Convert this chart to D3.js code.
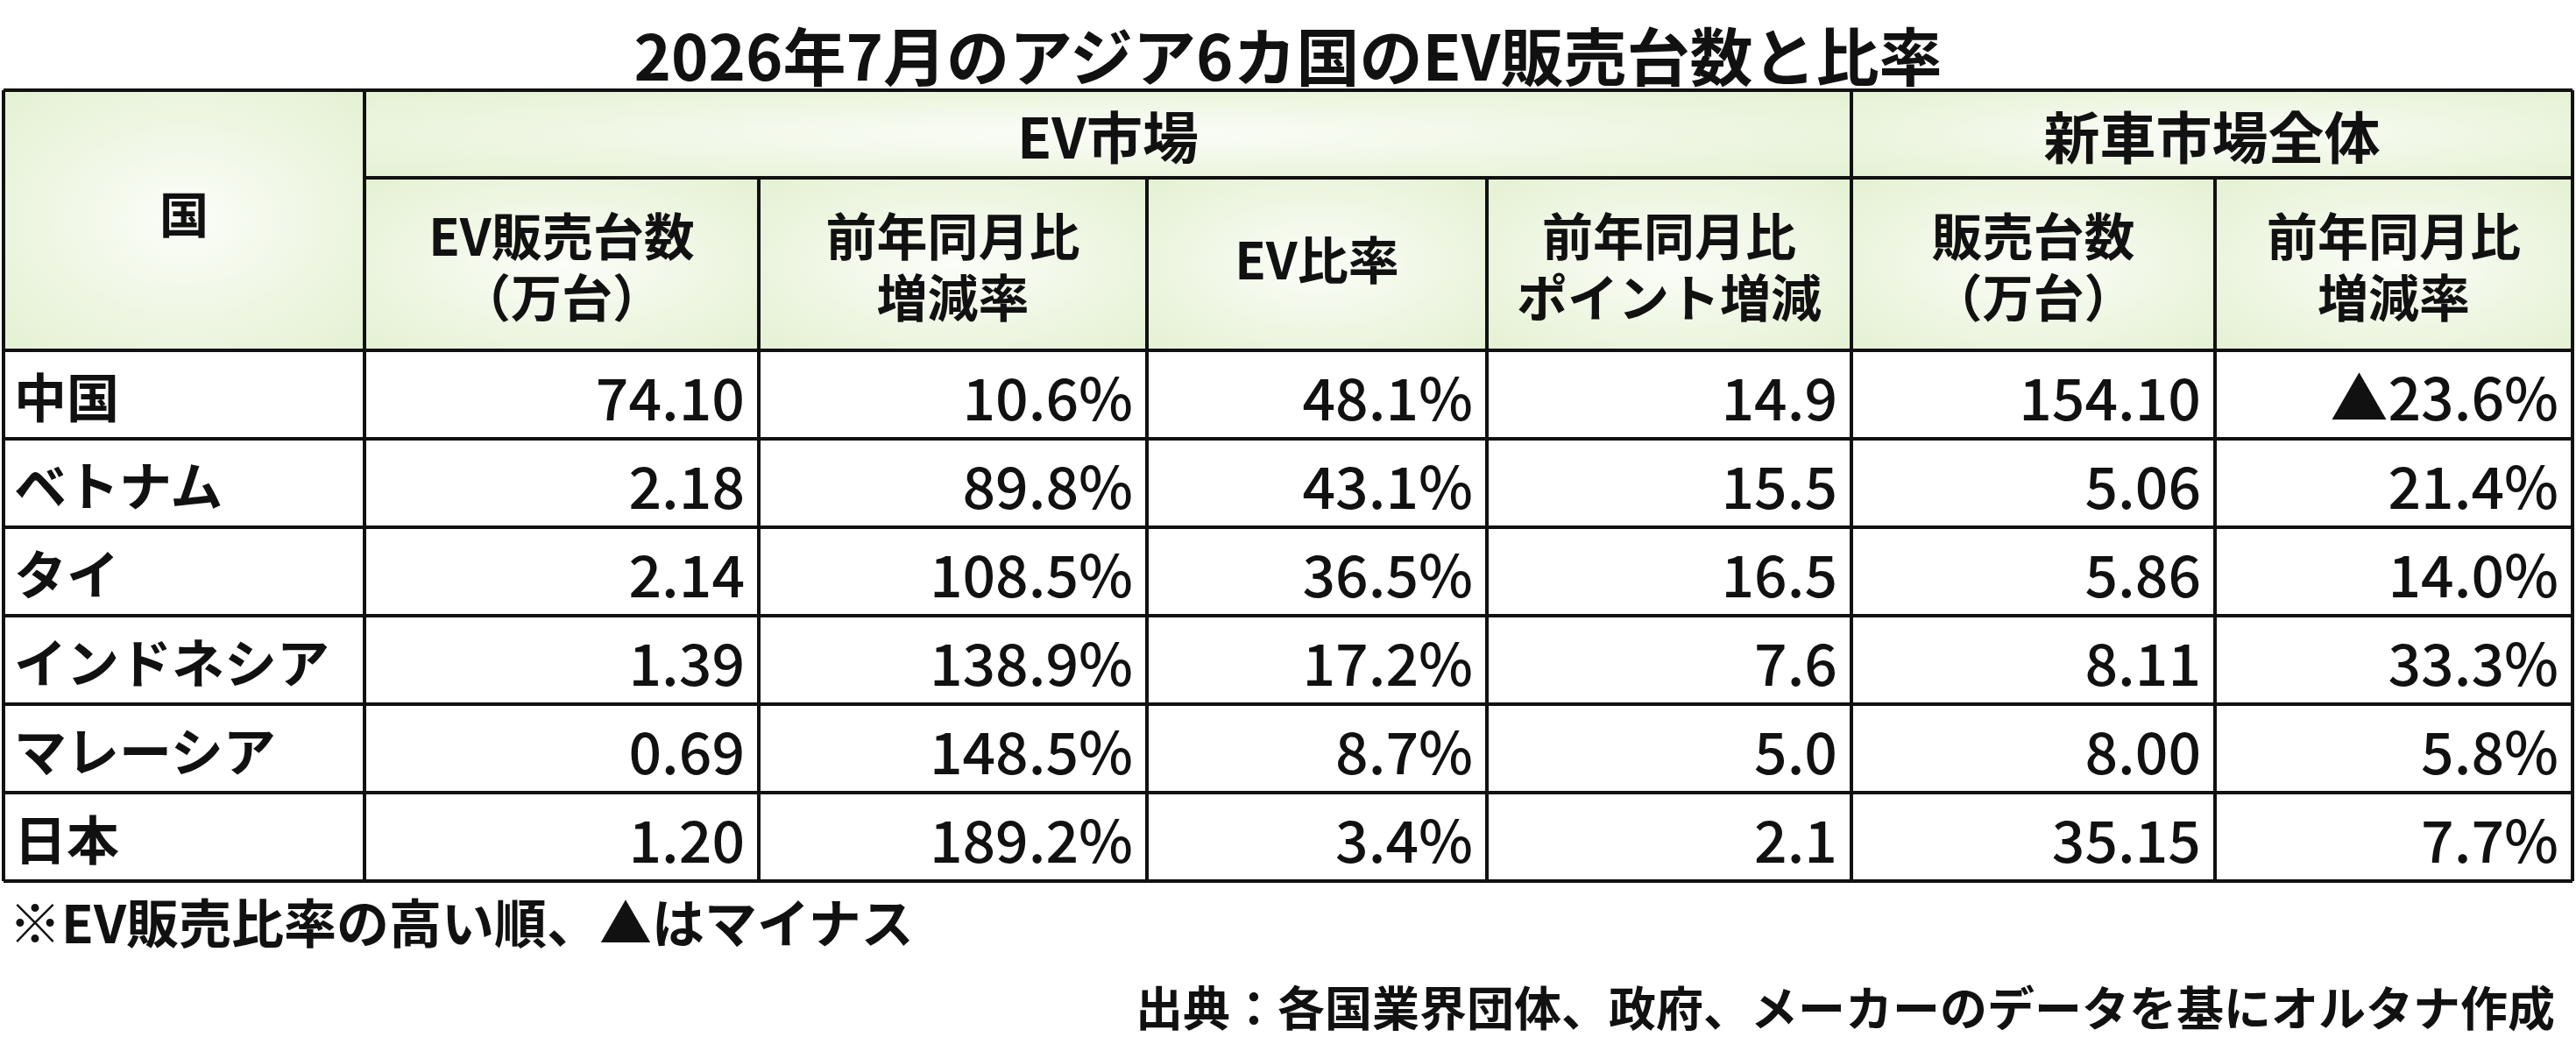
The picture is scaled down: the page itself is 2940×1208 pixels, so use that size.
<!DOCTYPE html>
<html><head><meta charset="utf-8">
<script src="https://cdn.jsdelivr.net/npm/d3@7"></script>
<style>body{margin:0;background:#fff}svg{display:block}text{font-family:"Noto Sans CJK JP","Noto Sans",sans-serif;fill:#111}</style>
</head><body><svg id="c" width="2940" height="1208"></svg>
<script>
const countries = ['中国','ベトナム','タイ','インドネシア','マレーシア','日本'];
const evSales = ['74.10','2.18','2.14','1.39','0.69','1.20'];
const evYoY = ['10.6%','89.8%','108.5%','138.9%','148.5%','189.2%'];
const evShare = ['48.1%','43.1%','36.5%','17.2%','8.7%','3.4%'];
const evPt = ['14.9','15.5','16.5','7.6','5.0','2.1'];
const totalSales = ['154.10','5.06','5.86','8.11','8.00','35.15'];
const totalYoY = ['▲23.6%','21.4%','14.0%','33.3%','5.8%','7.7%'];
const colHeads = [['EV販売台数','（万台）'],['前年同月比','増減率'],['EV比率'],['前年同月比','ポイント増減'],['販売台数','（万台）'],['前年同月比','増減率']];
const groups = [{name:'EV市場',from:1,to:5},{name:'新車市場全体',from:5,to:7}];

const svg = d3.select('#c');
const edges = [4,416,866,1309,1697,2113,2528,2936];
const x = i => edges[i];
const yTop = 103, yMid = 203, yHead = 400, rowH = 101;
const y = d3.scaleLinear().domain([0,countries.length]).range([yHead, yHead+rowH*countries.length]);
const yBot = y(countries.length);

const defs = svg.append('defs');
const g = defs.append('radialGradient').attr('id','hg').attr('cx','50%').attr('cy','50%').attr('r','70%');
g.append('stop').attr('offset','0%').attr('stop-color','#fbfdf8');
g.append('stop').attr('offset','100%').attr('stop-color','#e4f1d2');

svg.append('text').attr('x',1470).attr('y',60).attr('text-anchor','middle').attr('dominant-baseline','central')
  .attr('font-size',72).attr('font-weight',700).text('2026年7月のアジア6カ国のEV販売台数と比率');

// header backgrounds
const hcells = [{x0:0,x1:1,y0:yTop,y1:yHead}];
groups.forEach(gr=>hcells.push({x0:gr.from,x1:gr.to,y0:yTop,y1:yMid}));
colHeads.forEach((c,i)=>hcells.push({x0:i+1,x1:i+2,y0:yMid,y1:yHead}));
svg.selectAll('rect.h').data(hcells).join('rect')
  .attr('x',d=>x(d.x0)).attr('y',d=>d.y0).attr('width',d=>x(d.x1)-x(d.x0)).attr('height',d=>d.y1-d.y0)
  .attr('fill','url(#hg)');

svg.append('text').attr('x',(x(0)+x(1))/2).attr('y',(yTop+yHead)/2-10).attr('text-anchor','middle')
  .attr('dominant-baseline','central').attr('font-size',56).attr('font-weight',700).text('国');
svg.selectAll('text.g').data(groups).join('text')
  .attr('x',d=>(x(d.from)+x(d.to))/2).attr('y',(yTop+yMid)/2).attr('text-anchor','middle')
  .attr('dominant-baseline','central').attr('font-size',64).attr('font-weight',700).text(d=>d.name);
colHeads.forEach((lines,i)=>{
  const cx=(x(i+1)+x(i+2))/2, cy=(yMid+yHead)/2, lh=70;
  lines.forEach((t,j)=>svg.append('text').attr('x',cx).attr('y',cy+(j-(lines.length-1)/2)*lh-(lines.length==1?8:0))
    .attr('text-anchor','middle').attr('dominant-baseline','central').attr('font-size',58).attr('font-weight',700).text(t));
});

// body
const cols = [evSales,evYoY,evShare,evPt,totalSales,totalYoY];
countries.forEach((c,r)=>{
  const cy = (y(r)+y(r+1))/2;
  svg.append('text').attr('x',x(0)+12).attr('y',cy).attr('dominant-baseline','central').attr('font-size',60).attr('font-weight',700).text(c);
  cols.forEach((col,i)=>svg.append('text').attr('x',x(i+2)-16).attr('y',cy).attr('text-anchor','end')
    .attr('dominant-baseline','central').attr('font-size',66).attr('font-weight',500).text(col[r]));
});

// grid lines
const ln = (x1,y1,x2,y2,w)=>svg.append('line').attr('x1',x1).attr('y1',y1).attr('x2',x2).attr('y2',y2).attr('stroke','#111').attr('stroke-width',w||4);
ln(x(0),yTop,x(7),yTop); ln(x(1),yMid,x(7),yMid);
d3.range(countries.length+1).forEach(r=>ln(x(0),y(r),x(7),y(r)));
ln(x(0),yTop,x(0),yBot); ln(x(7),yTop,x(7),yBot); ln(x(1),yTop,x(1),yBot); ln(x(5),yTop,x(5),yBot);
[2,3,4,6].forEach(i=>ln(x(i),yMid,x(i),yBot));

svg.append('text').attr('x',10).attr('y',1050).attr('dominant-baseline','central').attr('font-size',60).attr('font-weight',700).text('※EV販売比率の高い順、▲はマイナス');
svg.append('text').attr('x',2916).attr('y',1148).attr('text-anchor','end').attr('dominant-baseline','central').attr('font-size',54).attr('font-weight',700).text('出典：各国業界団体、政府、メーカーのデータを基にオルタナ作成');
</script></body></html>
